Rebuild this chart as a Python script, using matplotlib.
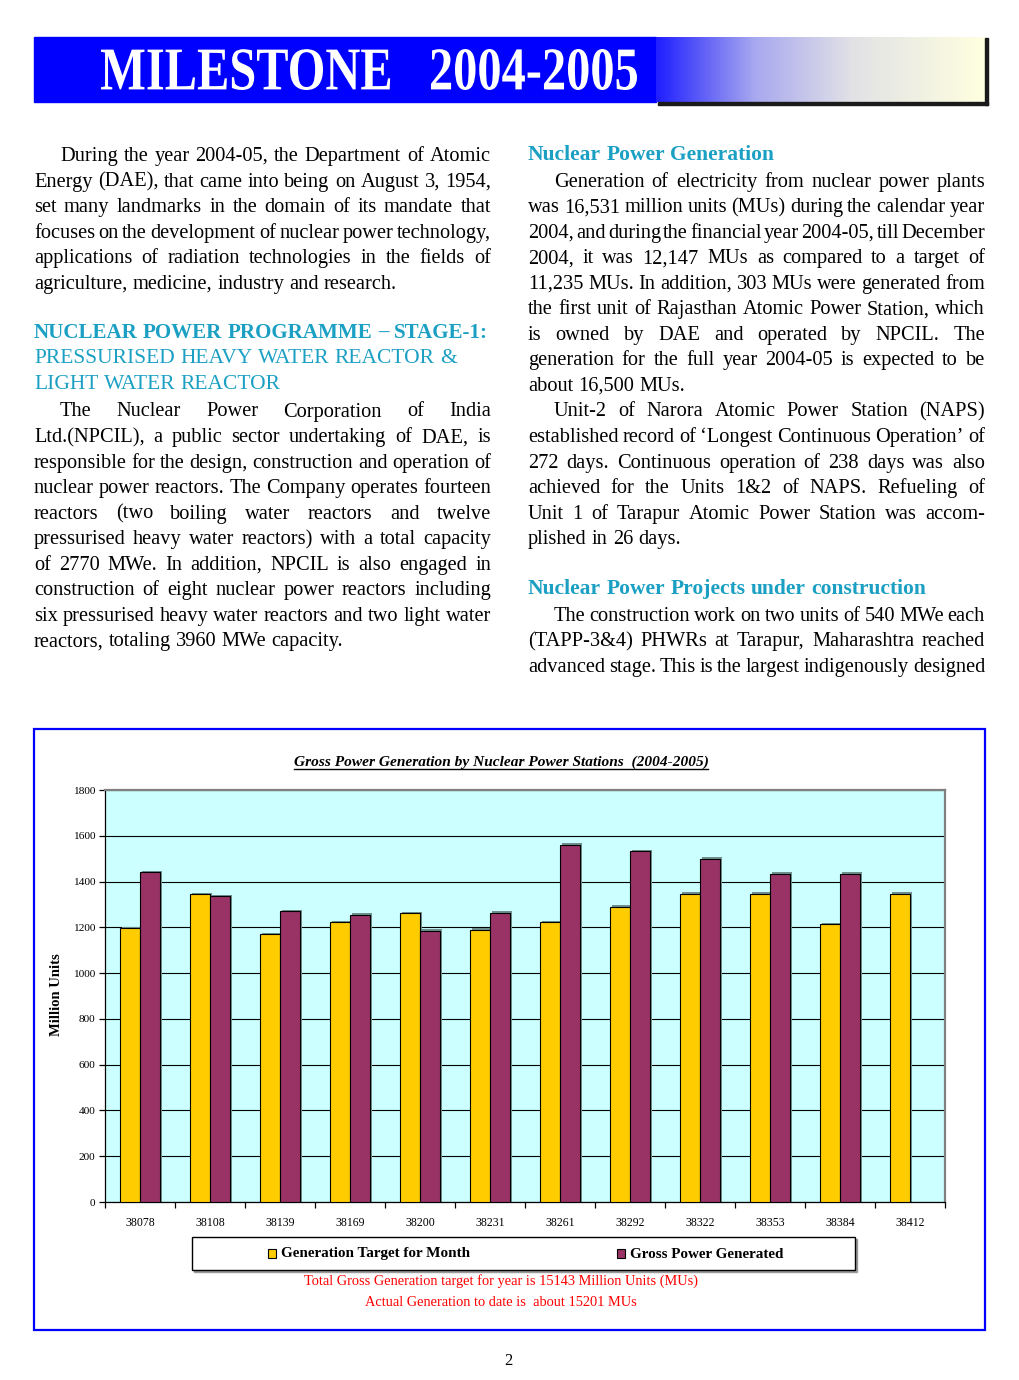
import matplotlib
matplotlib.use("Agg")
import matplotlib.pyplot as plt
import numpy as np
from matplotlib.font_manager import FontProperties
from matplotlib.textpath import TextPath
from matplotlib.patches import PathPatch, Rectangle
from matplotlib.transforms import Affine2D
from matplotlib.colors import LinearSegmentedColormap

plt.rcParams['font.family'] = ['Liberation Serif', 'DejaVu Serif']

# ---- chart data (monthly, Excel date serials as printed) ----
months = ['38078', '38108', '38139', '38169', '38200', '38231',
          '38261', '38292', '38322', '38353', '38384', '38412']
target = [1195, 1345, 1170, 1222, 1261, 1190, 1222, 1289, 1347, 1347, 1214, 1347]
generated = [1440, 1335, 1270, 1254, 1184, 1264, 1560, 1533, 1500, 1434, 1434, None]

chart_title = 'Gross Power Generation by Nuclear Power Stations  (2004-2005)'
legend_labels = ['Generation Target for Month', 'Gross Power Generated']
notes = ['Total Gross Generation target for year is 15143 Million Units (MUs)',
         'Actual Generation to date is  about 15201 MUs']

# ---- page text ----
left_p1 = ["During the year 2004-05, the Department of Atomic",
           "Energy (DAE), that came into being on August 3, 1954,",
           "set many landmarks in the domain of its mandate that",
           "focuses on the development of nuclear power technology,",
           "applications of radiation technologies in the fields of",
           "agriculture, medicine, industry and research."]
left_head = ["NUCLEAR POWER PROGRAMME – STAGE-1:",
             "PRESSURISED HEAVY WATER REACTOR &",
             "LIGHT WATER REACTOR"]
left_p2 = ["The Nuclear Power Corporation of India",
           "Ltd.(NPCIL), a public sector undertaking of DAE, is",
           "responsible for the design, construction and operation of",
           "nuclear power reactors. The Company operates fourteen",
           "reactors (two boiling water reactors and twelve",
           "pressurised heavy water reactors) with a total capacity",
           "of 2770 MWe. In addition, NPCIL is also engaged in",
           "construction of eight nuclear power reactors including",
           "six pressurised heavy water reactors and two light water",
           "reactors, totaling 3960 MWe capacity."]
right_head1 = "Nuclear Power Generation"
right_p1 = ["Generation of electricity from nuclear power plants",
            "was 16,531 million units (MUs) during the calendar year",
            "2004, and during the financial year 2004-05, till December",
            "2004, it was 12,147 MUs as compared to a target of",
            "11,235 MUs. In addition, 303 MUs were generated from",
            "the first unit of Rajasthan Atomic Power Station, which",
            "is owned by DAE and operated by NPCIL. The",
            "generation for the full year 2004-05 is expected to be",
            "about 16,500 MUs."]
right_p2 = ["Unit-2 of Narora Atomic Power Station (NAPS)",
            "established record of ‘Longest Continuous Operation’ of",
            "272 days. Continuous operation of 238 days was also",
            "achieved for the Units 1&2 of NAPS. Refueling of",
            "Unit 1 of Tarapur Atomic Power Station was accom-",
            "plished in 26 days."]
right_head2 = "Nuclear Power Projects under construction"
right_p3 = ["The construction work on two units of 540 MWe each",
            "(TAPP-3&4) PHWRs at Tarapur, Maharashtra reached",
            "advanced stage. This is the largest indigenously designed"]

fig = plt.figure(figsize=(10.2, 13.8), dpi=100)
page = fig.add_axes([0, 0, 1, 1])
page.axis('off')
renderer = fig.canvas.get_renderer()

BODY = 14.7
HEAD = 15.5
TEAL = '#1BA0C4'
Y0, LH = 161, 25.55


def text_w(s, prop):
    return renderer.get_text_width_height_descent(s, prop, ismath=False)[0]


def put_line(x0, x1, y, s, prop, color='black', justify=True, indent=0):
    words = s.split()
    widths = [text_w(w, prop) for w in words]
    sp = text_w('a a', prop) - text_w('aa', prop)
    if justify and len(words) > 1:
        gap = (x1 - x0 - indent - sum(widths)) / (len(words) - 1)
    else:
        gap = sp
    x = x0 + indent
    for w, wd in zip(words, widths):
        page.text(x, y, w, fontproperties=prop, color=color, ha='left', va='baseline')
        x += wd + gap


def paragraph(x0, x1, row, lines, last_justified=False):
    prop = FontProperties(family='Liberation Serif', size=BODY)
    for i, s in enumerate(lines):
        last = (i == len(lines) - 1) and not last_justified
        put_line(x0, x1, Y0 + (row + i) * LH, s, prop,
                 justify=not last, indent=26 if i == 0 else 0)


LX0, LX1 = 34, 491
RX0, RX1 = 528, 985

paragraph(LX0, LX1, 0, left_p1)
for i, s in enumerate(left_head):
    prop = FontProperties(family='Liberation Serif', size=15.15 if i == 0 else HEAD,
                          weight='bold' if i == 0 else 'normal')
    put_line(LX0, LX1, Y0 + (7 + i) * LH - 2, s, prop, color=TEAL, justify=False)
paragraph(LX0, LX1, 10, left_p2)

hprop = FontProperties(family='Liberation Serif', size=HEAD, weight='bold')
put_line(RX0, RX1, Y0 - 1, right_head1, hprop, color=TEAL, justify=False)
paragraph(RX0, RX1, 1, right_p1)
paragraph(RX0, RX1, 10, right_p2)
put_line(RX0, RX1, Y0 + 17 * LH - 1, right_head2, hprop, color=TEAL, justify=False)
paragraph(RX0, RX1, 18, right_p3, last_justified=True)

# ---- header banner ----
page.add_patch(Rectangle((34, 37), 622, 65, color='#0000FF', zorder=1))
cmap = LinearSegmentedColormap.from_list('band', [(0, '#1F1FFF'), (0.3, '#A8A8F0'),
                                                  (0.6, '#E2E2E6'), (1, '#FFFFE0')])
page.imshow(np.linspace(0, 1, 256).reshape(1, -1), cmap=cmap, aspect='auto',
            extent=(656, 985, 102, 37), zorder=1)
page.add_patch(Rectangle((658, 102), 330, 3, color='#1a1a1a', zorder=1))
page.add_patch(Rectangle((985, 38), 3, 67, color='#1a1a1a', zorder=1))

tprop = FontProperties(family='Liberation Serif', weight='bold')
tp = TextPath((0, 0), 'MILESTONE   2004-2005', size=100, prop=tprop)
bb = tp.get_extents()
sx = (637 - 101) / bb.width
sy = (90 - 49) / bb.height
tr = Affine2D().translate(-bb.x0, -bb.y0).scale(sx, -sy).translate(101, 90)
page.add_patch(PathPatch(tr.transform_path(tp), color='white', lw=0, zorder=3))

# ---- chart frame and annotations ----
page.add_patch(Rectangle((34, 729), 951, 601, fill=False, ec='#0000FF', lw=1.6))

ctprop = FontProperties(family='Liberation Serif', size=11.1, weight='bold', style='italic')
page.text(501, 766, chart_title, fontproperties=ctprop, ha='center', va='baseline')
cw = text_w(chart_title, ctprop)
page.plot([501 - cw / 2, 501 + cw / 2], [769, 769], color='black', lw=1)

page.text(57, 995, 'Million Units', rotation=90, fontsize=10.5, fontweight='bold',
          ha='center', va='center')

page.add_patch(Rectangle((194, 1239), 663, 33, color='#9a9a9a', zorder=1))
page.add_patch(Rectangle((192, 1237), 663, 33, fc='white', ec='black', lw=1, zorder=2))
colors = ['#FFCC00', '#993366']
for lx, lab, c in zip([268, 617], legend_labels, colors):
    page.add_patch(Rectangle((lx, 1249), 8, 9, fc=c, ec='black', lw=0.8, zorder=3))
    page.text(lx + 13, 1254, lab, fontsize=10.9, fontweight='bold', ha='left',
              va='center', zorder=3)

for yy, s in zip([1281, 1302], notes):
    page.text(501, yy, s, fontsize=10.4, color='#FF0000', ha='center', va='center')

page.text(508, 1361, '2', fontsize=12, ha='center', va='center')

page.set_xlim(0, 1020)
page.set_ylim(1380, 0)

# ---- bar chart ----
ax = fig.add_axes([105 / 1020, 1 - 1202 / 1380, 840 / 1020, 412 / 1380])
ax.set_facecolor('#CCFFFF')
x = np.arange(len(months))
w = 0.2857
gx = np.array([i for i, v in enumerate(generated) if v is not None])
gv = np.array([v for v in generated if v is not None])

ax.bar(x - w / 2 + 0.03, np.array(target) + 7, w, color='#6f8f8f', zorder=2)
ax.bar(gx + w / 2 + 0.03, gv + 7, w, color='#6f8f8f', zorder=2)
ax.bar(x - w / 2, target, w, color=colors[0], edgecolor='black', lw=0.8, zorder=3)
ax.bar(gx + w / 2, gv, w, color=colors[1], edgecolor='black', lw=0.8, zorder=3)

ax.set_xlim(-0.5, 11.5)
ax.set_ylim(0, 1800)
ax.set_yticks(np.arange(0, 1801, 200))
ax.set_xticks(x, months)
ax.set_xticks(np.arange(-0.5, 12, 1), minor=True)
ax.tick_params(axis='x', which='major', length=0, pad=11, labelsize=8.5)
ax.tick_params(axis='x', which='minor', length=4, direction='out', width=0.9)
ax.tick_params(axis='y', length=4, direction='out', width=0.9, pad=3, labelsize=8.2)
ax.set_axisbelow(True)
ax.yaxis.grid(True, color='black', lw=0.8)
for side in ['top', 'right']:
    ax.spines[side].set_color('#808080')
    ax.spines[side].set_linewidth(1.6)
for side in ['left', 'bottom']:
    ax.spines[side].set_color('black')
    ax.spines[side].set_linewidth(0.9)

fig.savefig('out.png', dpi=100, facecolor='white')
